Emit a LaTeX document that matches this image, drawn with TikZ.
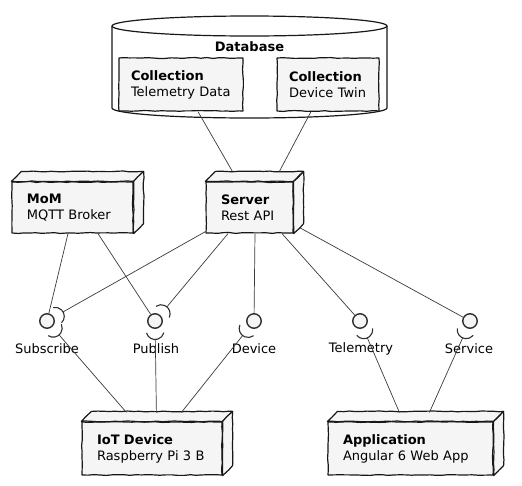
\documentclass[tikz,border=0pt]{standalone}
\usepackage{fontspec}
\setmainfont{DejaVu Sans}
\usetikzlibrary{decorations.pathmorphing,calc}
\definecolor{nodefill}{HTML}{F5F5F5}
\definecolor{edgecol}{HTML}{3A3A3A}
\definecolor{outline}{HTML}{181818}
\pgfmathsetseed{7}
\newcommand\mksocket[3]{%
  \coordinate (#3) at ($(#1.center)+(#2:18.5pt)$);
  \draw[sockstyle] ($(#1.center)+(#2:9.5pt)+(#2-75:9pt)$) arc[start angle=#2-75, end angle=#2+75, radius=9pt];
}
\begin{document}
\begin{tikzpicture}[x=1pt,y=-1pt,
  wob/.style={decorate,decoration={random steps,segment length=6pt,amplitude=0.45pt}},
  face/.style={draw=outline,line width=1.2pt,fill=nodefill,line join=round,wob},
  txt/.style={font=\fontsize{13}{16}\selectfont},
  nodebox/.style={face,txt,inner ysep=0pt,inner xsep=15pt,align=left},
  collbox/.style={face,txt,inner ysep=0pt,inner xsep=12pt,align=left,minimum height=53pt},
  ball/.style={circle,draw=outline!90,line width=1.4pt,fill=nodefill,minimum size=14.5pt,inner sep=0pt},
  sockstyle/.style={draw=outline!90,line width=1.1pt},
  conn/.style={draw=edgecol,line width=0.7pt},
  lbl/.style={txt,inner sep=0pt},
]
\useasboundingbox (0,0) rectangle (522,485);

% Database cylinder
\draw[draw=outline,line width=1.2pt,fill=white,line join=round]
  (112,26) -- (112,108) arc[start angle=180,end angle=360,x radius=137.5pt,y radius=10pt]
  -- (387,26);
\draw[draw=outline,line width=1.2pt,fill=white] (249.5,26) ellipse[x radius=137.5pt,y radius=10pt];
\node[lbl,font=\fontsize{13}{16}\selectfont\bfseries] (dbl) at (249.5,47) {Database};

% Collections
\node[collbox,text width=100pt] (col1) at (181,84.5) {\textbf{Collection}\\Telemetry Data};
\node[collbox,text width=78pt] (col2) at (328,84.5) {\textbf{Collection}\\Device Twin};

% 3D nodes
\node[nodebox,text width=91pt,minimum height=51pt] (mom) at (72.5,207.5) {\textbf{MoM}\\MQTT Broker};
\node[nodebox,text width=57pt,minimum height=51pt] (srv) at (249.5,207.5) {\textbf{Server}\\Rest API};
\node[nodebox,text width=110pt,minimum height=53pt] (iot) at (152,448.5) {\textbf{IoT Device}\\Raspberry Pi 3 B};
\node[nodebox,text width=135pt,minimum height=53pt] (app) at (410.5,448.5) {\textbf{Application}\\Angular 6 Web App};
\foreach \n in {mom,srv,iot,app}{
  \draw[face] (\n.north west) -- ++(10,-10) -- ([shift={(10pt,10pt)}]\n.north east) -- (\n.north east) -- cycle;
  \draw[face] (\n.north east) -- ([shift={(10pt,10pt)}]\n.north east) -- ([shift={(10pt,10pt)}]\n.south east) -- (\n.south east) -- cycle;
}

% Interfaces
\node[ball] (subB) at (47,321) {};
\node[ball] (pubB) at (155,321) {};
\node[ball] (devB) at (254,321) {};
\node[ball] (telB) at (360,321) {};
\node[ball] (svcB) at (470,321) {};
\node[lbl] (subL) at (47,349) {Subscribe};
\node[lbl] (pubL) at (156,349) {Publish};
\node[lbl] (devL) at (254,349) {Device};
\node[lbl] (telL) at (361,349) {Telemetry};
\node[lbl] (svcL) at (469,349) {Service};

\mksocket{subB}{29.5}{subS1}
\mksocket{subB}{-49}{subS2}
\mksocket{pubB}{50}{pubS1}
\mksocket{pubB}{-89}{pubS2}
\mksocket{devB}{-128}{devS}
\mksocket{telB}{-66.5}{telS}
\mksocket{svcB}{-113.5}{svcS}

% Connectors
\draw[conn] ([xshift=17pt]col1.south) -- ([shift={(27pt,10pt)}]srv.north west);
\draw[conn] ([xshift=-17pt]col2.south) -- ([shift={(74pt,10pt)}]srv.north west);
\draw[conn] ([xshift=-4.5pt]mom.south) -- (subB);
\draw[conn] ([xshift=25.5pt]mom.south) -- (pubB);
\draw[conn] ([yshift=2pt]srv.south west) -- (subS1);
\draw[conn] ([xshift=-21.5pt]srv.south) -- (pubS1);
\draw[conn] ([xshift=5.5pt]srv.south) -- (devB);
\draw[conn] ([xshift=32.5pt]srv.south) -- (telB);
\draw[conn] ([shift={(6pt,6pt)}]srv.south east) -- (svcB);
\draw[conn] ([shift={(45pt,9pt)}]iot.north west) -- (subS2);
\draw[conn] ([shift={(75pt,9pt)}]iot.north west) -- (pubS2);
\draw[conn] ([shift={(100pt,9pt)}]iot.north west) -- (devS);
\draw[conn] ([shift={(72pt,9pt)}]app.north west) -- (telS);
\draw[conn] ([shift={(102pt,9pt)}]app.north west) -- (svcS);
\end{tikzpicture}
\end{document}
